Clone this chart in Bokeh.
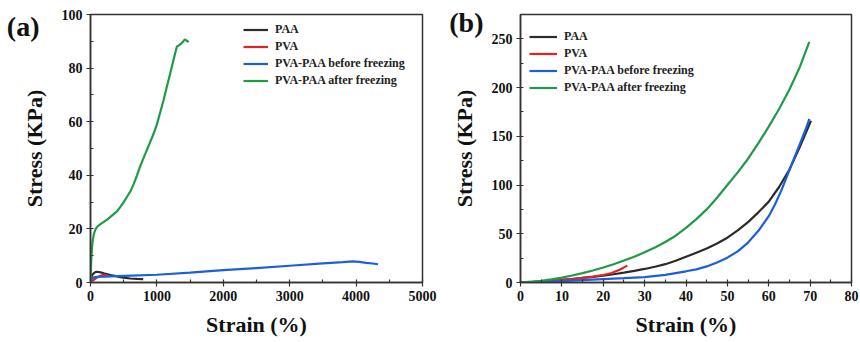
from bokeh.plotting import figure
from bokeh.layouts import row
from bokeh.models import (Range1d, SingleIntervalTicker, FixedTicker, Legend, LegendItem,
                          LinearAxis)
from bokeh.embed import file_html
from bokeh.resources import INLINE

# ---------------- data: panel (a) ----------------
paa_a_x = [0, 20, 50, 80, 100, 150, 200, 300, 400, 450, 500, 600, 700, 794]
paa_a_y = [0, 2.6, 3.5, 3.9, 4.0, 3.8, 3.4, 2.8, 2.3, 2.0, 1.8, 1.5, 1.35, 1.25]

pva_a_x = [0, 30, 60, 100, 150, 200, 250]
pva_a_y = [0, 0.6, 1.2, 1.9, 2.5, 2.9, 2.7]

bef_a_x = [0, 20, 50, 100, 300, 500, 1000, 1500, 2000, 2500, 3000, 3500, 3800, 3950, 4050, 4150, 4250, 4330]
bef_a_y = [0, 1.3, 1.9, 2.1, 2.3, 2.5, 2.9, 3.7, 4.6, 5.4, 6.25, 7.1, 7.6, 7.9, 7.7, 7.3, 7.1, 6.8]

aft_a_x = [0, 5, 10, 20, 30, 50, 75, 100, 150, 200, 250, 300, 350, 400, 450, 500, 550, 600, 650,
           700, 750, 800, 850, 900, 950, 1000, 1050, 1100, 1150, 1200, 1250, 1300, 1330, 1360,
           1390, 1420, 1450, 1480]
aft_a_y = [0, 4, 8, 12, 15, 18, 19.8, 20.8, 21.8, 22.6, 23.5, 24.5, 25.5, 26.6, 28.2, 30, 32, 34,
           36.7, 40, 43.5, 46.5, 49.5, 52.5, 55.5, 59, 63.5, 68, 73, 78, 83, 88, 88.5, 89,
           89.8, 90.7, 90.2, 89.7]

# ---------------- data: panel (b) ----------------
paa_b_x = [0, 2.5, 5, 7.5, 10, 12.5, 15, 17.5, 20, 22.5, 25, 27.5, 30, 32.5, 35, 37.5, 40, 42.5,
           45, 47.5, 50, 52.5, 55, 57.5, 60, 62.5, 65, 67.5, 70.2]
paa_b_y = [0, 0.5, 1.1, 1.8, 2.7, 3.6, 4.7, 5.8, 7.1, 8.5, 10.1, 11.9, 13.9, 16.2, 18.8, 22.3,
           26.5, 30.5, 35, 40, 46, 53.5, 62, 72, 83, 98, 116, 139, 166]

pva_b_x = [0, 5, 10, 12.5, 15, 17.5, 20, 22, 24, 25.8]
pva_b_y = [0, 1, 2.6, 3.5, 4.7, 6, 7.7, 9.8, 13, 17.3]

bef_b_x = [0, 5, 10, 15, 20, 25, 30, 35, 40, 42.5, 45, 47.5, 50, 52.5, 55, 57.5, 60, 61.5, 63,
           64.5, 66, 67.5, 69, 69.8]
bef_b_y = [0, 0.6, 1.5, 2.5, 3.5, 4.5, 5.6, 7.8, 11.5, 13.5, 16.5, 20.5, 25.5, 32, 41, 53, 68,
           80, 94, 110, 126, 142, 158, 168]

aft_b_x = [0, 2.5, 5, 7.5, 10, 12.5, 15, 17.5, 20, 22.5, 25, 27.5, 30, 32.5, 35, 37.5, 40, 42.5,
           45, 47.5, 50, 52.5, 55, 57.5, 60, 62.5, 65, 67.5, 69.8]
aft_b_y = [0, 0.8, 1.8, 3.2, 5, 7.2, 9.6, 12.3, 15.4, 18.8, 22.5, 26.5, 31, 36, 41.5, 48, 56, 65,
           75, 87, 100, 113, 127, 143, 160, 178, 198, 221, 247]

labels = ["PAA", "PVA", "PVA-PAA before freezing", "PVA-PAA after freezing"]
colors = ["#2b2b2b", "#e3231f", "#1c5fdc", "#1f9b48"]
panel_tags = ["(a)", "(b)"]

FONT = "Liberation Serif"
AX_COLOR = "#333333"
FRAME_H = 268


def style(p, xint, yint):
    p.xgrid.visible = False
    p.ygrid.visible = False
    p.outline_line_color = AX_COLOR
    p.outline_line_width = 1.5
    p.xaxis.ticker = SingleIntervalTicker(interval=xint, num_minor_ticks=2)
    p.yaxis.ticker = SingleIntervalTicker(interval=yint, num_minor_ticks=2)
    for ax in (p.xaxis[0], p.yaxis[0]):
        ax.axis_line_color = AX_COLOR
        ax.axis_line_width = 1.5
        ax.major_tick_line_color = AX_COLOR
        ax.minor_tick_line_color = AX_COLOR
        ax.major_tick_line_width = 1.2
        ax.minor_tick_line_width = 1.2
        ax.major_tick_out = 4
        ax.major_tick_in = 0
        ax.minor_tick_out = 0
        ax.minor_tick_in = 3
        ax.major_label_text_font = FONT
        ax.major_label_text_font_style = "bold"
        ax.major_label_text_font_size = "14px"
        ax.major_label_text_color = "#111111"
        ax.axis_label_text_font = FONT
        ax.axis_label_text_font_style = "bold"
        ax.axis_label_text_font_size = "22px"
        ax.axis_label_text_color = "#111111"
    p.xaxis.major_label_standoff = 4
    p.yaxis.major_label_standoff = 4
    p.xaxis.axis_label_standoff = 8
    p.yaxis.axis_label_standoff = 12
    p.xaxis.axis_label = "Strain (%)"
    p.yaxis.axis_label = "Stress (KPa)"


def add_tag(p, tag, tag_pos, standoff):
    # panel tag drawn as the single label of an extra, invisible left axis
    p.extra_y_ranges = {"tag": Range1d(0, FRAME_H)}
    ax = LinearAxis(y_range_name="tag", ticker=FixedTicker(ticks=[tag_pos], minor_ticks=[]),
                    major_label_overrides={tag_pos: tag})
    ax.axis_line_color = None
    ax.major_tick_line_color = None
    ax.minor_tick_line_color = None
    ax.major_tick_out = 0
    ax.major_tick_in = 0
    ax.minor_tick_out = 0
    ax.minor_tick_in = 0
    ax.major_label_standoff = standoff
    ax.major_label_text_font = FONT
    ax.major_label_text_font_style = "bold"
    ax.major_label_text_font_size = "28px"
    ax.major_label_text_color = "#111111"
    p.add_layout(ax, "left")


def add_lines(p, series, glyph_w, loc):
    items = []
    for (xs, ys), lab, col in zip(series, labels, colors):
        r = p.line(xs, ys, line_color=col, line_width=2.2)
        items.append(LegendItem(label=lab, renderers=[r]))
    leg = Legend(items=items, location=loc)
    leg.border_line_color = None
    leg.background_fill_alpha = 0
    leg.label_text_font = FONT
    leg.label_text_font_style = "bold"
    leg.label_text_font_size = "12px"
    leg.label_text_color = "#222222"
    leg.glyph_width = glyph_w
    leg.glyph_height = 17
    leg.label_height = 17
    leg.spacing = 0
    leg.padding = 0
    leg.margin = 0
    leg.label_standoff = 7
    p.add_layout(leg)


# ---------------- panel (a) ----------------
pa = figure(width=444, height=342, output_backend="svg", toolbar_location=None,
            x_range=Range1d(0, 5000), y_range=Range1d(0, 100),
            min_border_left=90, min_border_right=22, min_border_top=14, min_border_bottom=60)
style(pa, 1000, 20)
add_lines(pa, [(paa_a_x, paa_a_y), (pva_a_x, pva_a_y), (bef_a_x, bef_a_y), (aft_a_x, aft_a_y)],
          25, (153, 193))
add_tag(pa, panel_tags[0], 256, -21)

# ---------------- panel (b) ----------------
pb = figure(width=416, height=342, output_backend="svg", toolbar_location=None,
            x_range=Range1d(0, 80), y_range=Range1d(0, 275),
            min_border_left=76, min_border_right=9, min_border_top=14, min_border_bottom=60)
style(pb, 10, 50)
add_lines(pb, [(paa_b_x, paa_b_y), (pva_b_x, pva_b_y), (bef_b_x, bef_b_y), (aft_b_x, aft_b_y)],
          28, (9, 186))
add_tag(pb, panel_tags[1], 260, -35)

layout = row(pa, pb)
open("out.html", "w").write(file_html(layout, INLINE))
